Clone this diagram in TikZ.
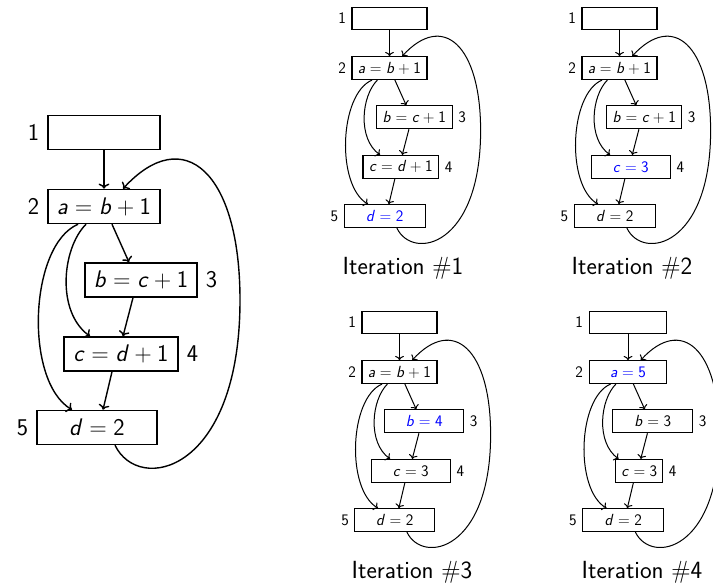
\documentclass[tikz,border=0pt]{standalone}
\usetikzlibrary{arrows.meta}
\renewcommand{\familydefault}{\sfdefault}

% assignments set in sans serif with slanted variables
\newcommand{\vv}[1]{\textsl{#1}}
\newcommand{\eqs}{\hspace{0.278em}=\hspace{0.278em}}
\newcommand{\pls}{\hspace{0.222em}+\hspace{0.222em}}
\newcommand{\hl}[1]{\textcolor{blue}{#1}}

\tikzset{
  blk/.style={draw, rectangle, inner sep=0pt},
  edge/.style={-{To[scale=1.1]}},
  caption/.style={font=\fontsize{24.8}{28}\selectfont},
}

% #1 x of block 1, #2 y of block 1, #3 scale, #4 name prefix
% box texts: \tB \tC \tD \tE ; widths: \wA \wB \wC \wD \wE
\newcommand{\cfgdiag}[4]{%
  \pgfmathsetmacro\fs{24*#3}%
  \pgfmathsetmacro\lwb{0.3+1.2*#3}%
  \pgfmathsetmacro\lwe{0.2+1.2*#3}%
  \pgfmathsetmacro\ld{8*#3}%
  \begin{scope}[every node/.append style={font=\fontsize{\fs}{\fs}\selectfont},
                every label/.append style={inner xsep=\ld pt, inner ysep=0pt},
                blk/.append style={line width=\lwb pt, minimum height={#3*34pt}},
                edge/.append style={line width=\lwe pt}]
  \node[blk, minimum width={#3*\wA*1pt}, label=left:1] (#4-1) at ({#1},{#2}) {};
  \node[blk, minimum width={#3*\wB*1pt}, label=left:2] (#4-2) at ({#1},{#2-#3*74}) {\tB};
  \node[blk, minimum width={#3*\wC*1pt}, label=right:3] (#4-3) at ({#1+#3*37},{#2-#3*147.5}) {\tC};
  \node[blk, minimum width={#3*\wD*1pt}, label=right:4] (#4-4) at ({#1+#3*17},{#2-#3*221.5}) {\tD};
  \node[blk, minimum width={#3*\wE*1pt}, label=left:5] (#4-5) at ({#1-#3*7},{#2-#3*295}) {\tE};
  \coordinate (#4-loop) at ({#1+#3*136},{#2-#3*167.5});
  \draw[edge] (#4-1) -- (#4-2);
  \draw[edge] ([xshift={#3*8pt}]#4-2.south) -- ([xshift={-#3*12pt}]#4-3.north);
  \draw[edge] ([xshift={-#3*8pt}]#4-3.south) -- ([xshift={#3*2pt}]#4-4.north);
  \draw[edge] ([xshift={-#3*9pt}]#4-4.south) -- ([xshift={#3*6pt}]#4-5.north);
  \draw[edge] ([xshift={-#3*18pt}]#4-2.south)
     .. controls +({-#3*24},{-#3*24}) and +({-#3*34},{#3*24.5}) .. ([xshift={-#3*31pt}]#4-4.north);
  \draw[edge] ([xshift={-#3*26pt}]#4-2.south)
     .. controls +({-#3*49},{-#3*21}) and +({-#3*48},{#3*28.5}) .. ([xshift={-#3*25pt}]#4-5.north);
  \draw[edge] ([xshift={#3*18pt}]#4-5.south)
     .. controls +({#3*24},{-#3*49.5}) and +(0,{-#3*172.5}) .. (#4-loop)
     .. controls +(0,{#3*127.5}) and +({#3*61},{#3*66.5}) .. ([xshift={#3*19pt}]#4-2.north);
  \end{scope}%
}

\begin{document}
\begin{tikzpicture}[x=1pt,y=1pt]
\useasboundingbox (0,0) rectangle (713,-585);

% original program
\def\wA{112}\def\wB{112}\def\wC{112}\def\wD{114}\def\wE{120}
\def\tB{\vv{a}\eqs\vv{b}\pls1}\def\tC{\vv{b}\eqs\vv{c}\pls1}\def\tD{\vv{c}\eqs\vv{d}\pls1}\def\tE{\vv{d}\eqs2}
\cfgdiag{104}{-132.5}{1}{g}

% iteration 1
\def\wA{112}\def\wB{112}\def\wC{113}\def\wD{113}\def\wE{121}
\def\tE{\hl{\vv{d}\eqs2}}
\cfgdiag{389.5}{-18.5}{0.67}{i}
\node[caption] (cap1) at (403,-268) {Iteration $\#$1};

% iteration 2
\def\wA{112}\def\wB{112}\def\wC{112}\def\wD{118}\def\wE{121}
\def\tD{\hl{\vv{c}\eqs3}}\def\tE{\vv{d}\eqs2}
\cfgdiag{619.5}{-18.5}{0.67}{ii}
\node[caption] (cap2) at (632,-268) {Iteration $\#$2};

% iteration 3
\def\wA{112}\def\wB{112}\def\wC{118}\def\wD{118}\def\wE{119}
\def\tC{\hl{\vv{b}\eqs4}}\def\tD{\vv{c}\eqs3}
\cfgdiag{399.5}{-322.5}{0.67}{iii}
\node[caption] (cap3) at (412,-572) {Iteration $\#$3};

% iteration 4
\def\wA{116}\def\wB{116}\def\wC{119}\def\wD{70}\def\wE{121}
\def\tB{\hl{\vv{a}\eqs5}}\def\tC{\vv{b}\eqs3}
\cfgdiag{628}{-322.5}{0.67}{iv}
\node[caption] (cap4) at (642,-572) {Iteration $\#$4};
\end{tikzpicture}
\end{document}
